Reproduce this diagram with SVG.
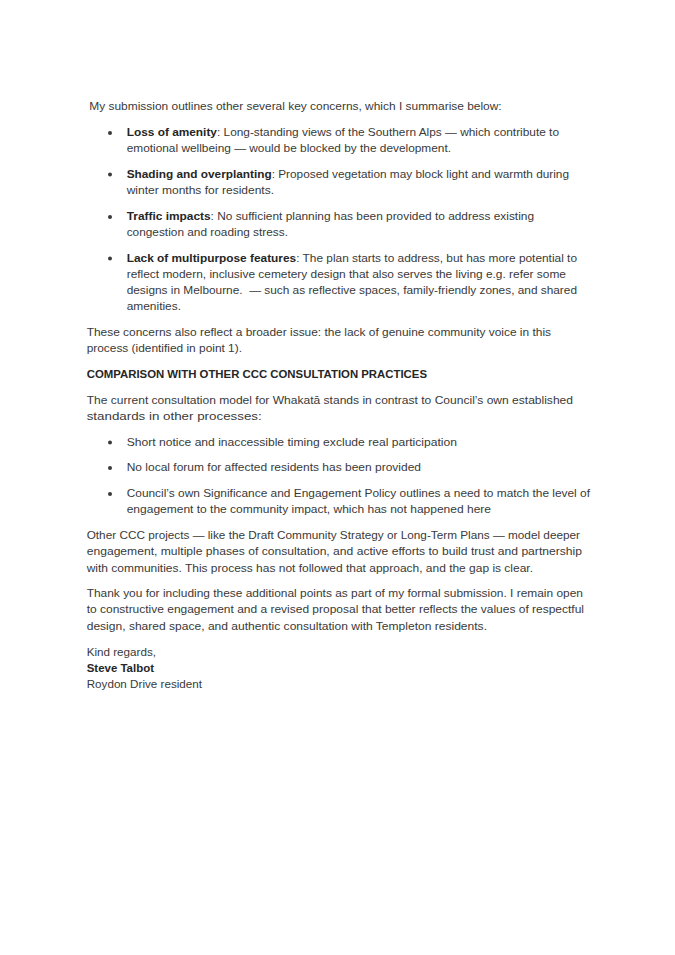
<svg xmlns="http://www.w3.org/2000/svg" width="675" height="955" viewBox="0 0 675 955">
<style>
text{font-family:"Liberation Sans",Arial,sans-serif;font-size:11.5px;fill:#3a3a3a}
.b{font-weight:bold;fill:#262626}
.dot{fill:#3a3a3a}
</style>
<rect width="675" height="955" fill="#ffffff"/>
<g id="intro">
<text x="89.3" y="110" textLength="412.4" lengthAdjust="spacingAndGlyphs">My submission outlines other several key concerns, which I summarise below:</text>
</g>
<g id="concerns">
<circle class="dot" cx="110" cy="133" r="2"/>
<circle class="dot" cx="110" cy="174.5" r="2"/>
<circle class="dot" cx="110" cy="217" r="2"/>
<circle class="dot" cx="110" cy="258.5" r="2"/>
<text x="126.7" y="136" textLength="432.3" lengthAdjust="spacingAndGlyphs"><tspan class="b">Loss of amenity</tspan>: Long-standing views of the Southern Alps — which contribute to</text>
<text x="126.7" y="152.3" textLength="324.3" lengthAdjust="spacingAndGlyphs">emotional wellbeing — would be blocked by the development.</text>
<text x="126.7" y="177.5" textLength="442.3" lengthAdjust="spacingAndGlyphs"><tspan class="b">Shading and overplanting</tspan>: Proposed vegetation may block light and warmth during</text>
<text x="126.7" y="193.8" textLength="147.3" lengthAdjust="spacingAndGlyphs">winter months for residents.</text>
<text x="126.7" y="220" textLength="407.3" lengthAdjust="spacingAndGlyphs"><tspan class="b">Traffic impacts</tspan>: No sufficient planning has been provided to address existing</text>
<text x="126.7" y="236.3" textLength="161.3" lengthAdjust="spacingAndGlyphs">congestion and roading stress.</text>
<text x="126.7" y="261.5" textLength="450.3" lengthAdjust="spacingAndGlyphs"><tspan class="b">Lack of multipurpose features</tspan>: The plan starts to address, but has more potential to</text>
<text x="126.7" y="277.8" textLength="439.3" lengthAdjust="spacingAndGlyphs">reflect modern, inclusive cemetery design that also serves the living e.g. refer some</text>
<text x="126.7" y="294.1" textLength="450.3" lengthAdjust="spacingAndGlyphs" style="white-space:pre">designs in Melbourne.  — such as reflective spaces, family-friendly zones, and shared</text>
<text x="126.7" y="310.4" textLength="54.3" lengthAdjust="spacingAndGlyphs">amenities.</text>
</g>
<g id="broader">
<text x="86.7" y="336" textLength="464.3" lengthAdjust="spacingAndGlyphs">These concerns also reflect a broader issue: the lack of genuine community voice in this</text>
<text x="86.7" y="352.3" textLength="155.3" lengthAdjust="spacingAndGlyphs">process (identified in point 1).</text>
</g>
<g id="heading">
<text class="b" x="86.7" y="378" textLength="340.3" lengthAdjust="spacingAndGlyphs">COMPARISON WITH OTHER CCC CONSULTATION PRACTICES</text>
</g>
<g id="comparison">
<text x="86.7" y="403.5" textLength="486.3" lengthAdjust="spacingAndGlyphs">The current consultation model for Whakatā stands in contrast to Council’s own established</text>
<text x="86.7" y="419.8" textLength="175" lengthAdjust="spacingAndGlyphs">standards in other processes:</text>
<circle class="dot" cx="110" cy="442.5" r="2"/>
<circle class="dot" cx="110" cy="468" r="2"/>
<circle class="dot" cx="110" cy="494" r="2"/>
<text x="126.7" y="445.5" textLength="330.3" lengthAdjust="spacingAndGlyphs">Short notice and inaccessible timing exclude real participation</text>
<text x="126.7" y="471" textLength="294.3" lengthAdjust="spacingAndGlyphs">No local forum for affected residents has been provided</text>
<text x="126.7" y="497" textLength="463.3" lengthAdjust="spacingAndGlyphs">Council’s own Significance and Engagement Policy outlines a need to match the level of</text>
<text x="126.7" y="513.3" textLength="364.3" lengthAdjust="spacingAndGlyphs">engagement to the community impact, which has not happened here</text>
</g>
<g id="other-projects">
<text x="86.7" y="539" textLength="493.3" lengthAdjust="spacingAndGlyphs">Other CCC projects — like the Draft Community Strategy or Long-Term Plans — model deeper</text>
<text x="86.7" y="555.3" textLength="495.3" lengthAdjust="spacingAndGlyphs">engagement, multiple phases of consultation, and active efforts to build trust and partnership</text>
<text x="86.7" y="571.6" textLength="446.3" lengthAdjust="spacingAndGlyphs">with communities. This process has not followed that approach, and the gap is clear.</text>
</g>
<g id="thanks">
<text x="86.7" y="597" textLength="496.3" lengthAdjust="spacingAndGlyphs">Thank you for including these additional points as part of my formal submission. I remain open</text>
<text x="86.7" y="613.3" textLength="497.3" lengthAdjust="spacingAndGlyphs">to constructive engagement and a revised proposal that better reflects the values of respectful</text>
<text x="86.7" y="629.6" textLength="400.3" lengthAdjust="spacingAndGlyphs">design, shared space, and authentic consultation with Templeton residents.</text>
</g>
<g id="signature">
<text x="86.7" y="655.5" textLength="69.3" lengthAdjust="spacingAndGlyphs">Kind regards,</text>
<text class="b" x="86.7" y="671.8" textLength="67.3" lengthAdjust="spacingAndGlyphs">Steve Talbot</text>
<text x="86.7" y="688.1" textLength="115.3" lengthAdjust="spacingAndGlyphs">Roydon Drive resident</text>
</g>
</svg>
